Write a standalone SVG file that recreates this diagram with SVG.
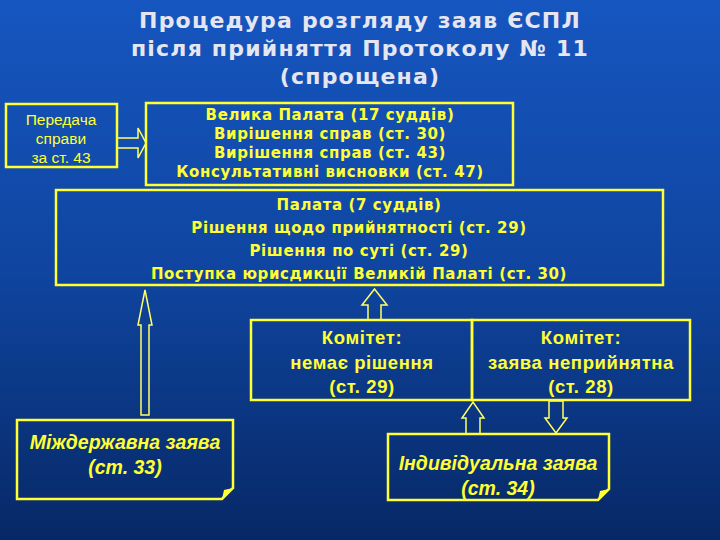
<svg xmlns="http://www.w3.org/2000/svg" width="720" height="540" viewBox="0 0 720 540">
<defs>
<linearGradient id="bg" x1="0" y1="0" x2="0" y2="1"><stop offset="0" stop-color="#1656c0"/><stop offset="0.5" stop-color="#0f45a0"/><stop offset="1" stop-color="#072866"/></linearGradient>
</defs>
<style>
.b{fill:none;stroke:#ffff33;stroke-width:2.5}
.a{fill:none;stroke:#ffff66;stroke-width:1.5}
.t{fill:#ffff33;font-family:"DejaVu Sans",sans-serif;font-weight:bold;text-anchor:middle;letter-spacing:0.6px}
.n{fill:#ffff33;font-family:"Liberation Sans Narrow","Liberation Sans",sans-serif;text-anchor:middle;font-weight:bold}
.h{fill:#e6e6f0;font-family:"DejaVu Sans",sans-serif;font-weight:bold;text-anchor:middle;font-size:22px;letter-spacing:1.2px}
</style>
<rect width="720" height="540" fill="url(#bg)"/>
<g id="title"><text class="h" x="360" y="28">Процедура розгляду заяв ЄСПЛ</text><text class="h" x="360" y="56">після прийняття Протоколу № 11</text><text class="h" x="360" y="84">(спрощена)</text></g>
<g id="connectors">
<polygon class="a" points="117,138 138,138 138,128 146,143 138,158 138,148 117,148"/>
<polygon class="a" points="368,320 368,305 362,305 374.5,289 387,305 381,305 381,320"/>
<polygon class="a" points="141,415 141,325 138,325 145,290 152,325 149,325 149,415"/>
<polygon class="a" points="466,434 466,418 462,418 473,402 484,418 480,418 480,434"/>
<polygon class="a" points="549,401 549,418 545,418 556,433 567,418 563,418 563,401"/>
</g>
<g id="transfer"><rect class="b" x="6" y="104" width="111" height="63"/><text class="n" style="font-weight:normal;font-family:'Liberation Sans',sans-serif" font-size="15.5"><tspan x="61" y="125">Передача</tspan><tspan x="61" y="144">справи</tspan><tspan x="61" y="163">за ст. 43</tspan></text></g>
<g id="grand"><rect class="b" x="146" y="103" width="367" height="82"/><text class="t" font-size="15"><tspan x="330" y="120">Велика Палата (17 суддів)</tspan><tspan x="330" y="139">Вирішення справ (ст. 30)</tspan><tspan x="330" y="158">Вирішення справ (ст. 43)</tspan><tspan x="330" y="177">Консультативні висновки (ст. 47)</tspan></text></g>
<g id="chamber"><rect class="b" x="56" y="190" width="607" height="95"/><text class="t" font-size="15"><tspan x="359" y="210">Палата (7 суддів)</tspan><tspan x="359" y="233">Рішення щодо прийнятності (ст. 29)</tspan><tspan x="359" y="256">Рішення по суті (ст. 29)</tspan><tspan x="359" y="279">Поступка юрисдикції Великій Палаті (ст. 30)</tspan></text></g>
<g id="com1"><rect class="b" x="251" y="320" width="221" height="80"/><text class="n" font-size="18.5" letter-spacing="0.6"><tspan x="362" y="344">Комітет:</tspan><tspan x="362" y="369">немає рішення</tspan><tspan x="362" y="393">(ст. 29)</tspan></text></g>
<g id="com2"><rect class="b" x="472" y="320" width="218" height="80"/><text class="n" font-size="18.5" letter-spacing="0.6"><tspan x="581" y="344">Комітет:</tspan><tspan x="581" y="369">заява неприйнятна</tspan><tspan x="581" y="393">(ст. 28)</tspan></text></g>
<g id="inter"><path class="b" d="M17,420 H233 V488 L222,499 H17 Z"/><path d="M233,488 L222,499 L224,490 Z" fill="#ffff33"/><text class="n" font-size="19.5" font-style="italic"><tspan x="125" y="449">Міждержавна заява</tspan><tspan x="125" y="474">(ст. 33)</tspan></text></g>
<g id="indiv"><path class="b" d="M388,434 H609 V489 L598,500 H388 Z"/><path d="M609,489 L598,500 L600,491 Z" fill="#ffff33"/><text class="n" font-size="19.5" font-style="italic"><tspan x="498" y="470">Індивідуальна заява</tspan><tspan x="498" y="495">(ст. 34)</tspan></text></g>
</svg>
